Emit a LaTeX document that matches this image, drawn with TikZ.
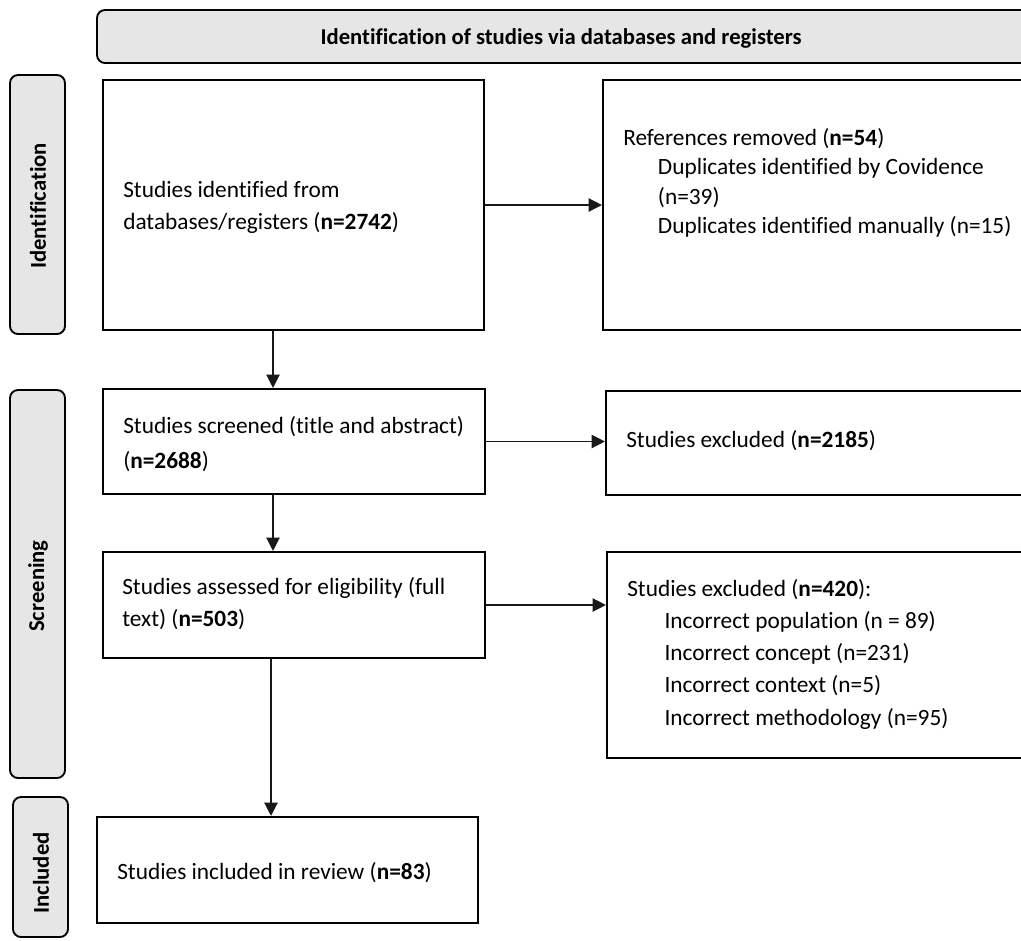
\documentclass[tikz,border=0pt]{standalone}
\usepackage{fontspec}
\setmainfont{Carlito}[Ligatures=NoCommon]
\usetikzlibrary{arrows.meta,fit}
\definecolor{phasegray}{HTML}{E6E6E6}
\begin{document}
\begin{tikzpicture}[x=0.75pt,y=-0.75pt,
  box/.style={draw=black, line width=1.6pt, inner sep=0pt, fill=white},
  phase/.style={draw=black, line width=1.4pt, fill=phasegray, rounded corners=6pt, inner sep=0pt},
  txt/.style={font=\fontsize{17.5}{24}\selectfont, align=left, anchor=west, inner sep=0pt},
  phasetxt/.style={font=\fontsize{17}{20}\selectfont\bfseries, rotate=90, inner sep=0pt},
  arr/.style={draw=black!90, line width=1pt, -{Triangle[length=10pt,width=10pt]}}]
\useasboundingbox (0,0) rectangle (1021,940);
\clip (0,0) rectangle (1021,940);
% header banner
\node[phase, fit={(97,10) (1060,63)}] (hdr) {};
\node[font=\fontsize{17}{20}\selectfont\bfseries, inner sep=0pt] (hdrt) at (561,38) {Identification of studies via databases and registers};
% phase side boxes
\node[phase, fit={(10,75) (65,334)}] (pid) {};
\node[phasetxt] (pidt) at (38,206) {Identification};
\node[phase, fit={(10,390) (65,778)}] (psc) {};
\node[phasetxt] (psct) at (38,586) {Screening};
\node[phase, fit={(13,797) (68,937)}] (pin) {};
\node[phasetxt] (pint) at (41,873) {Included};
% main boxes
\node[box, fit={(103,80) (484,330)}] (b1) {};
\node[box, fit={(603,80) (1060,330)}] (r1) {};
\node[box, fit={(103,389) (485,494)}] (b2) {};
\node[box, fit={(606,391) (1060,495)}] (r2) {};
\node[box, fit={(103,552) (485,658)}] (b3) {};
\node[box, fit={(607,552) (1060,758)}] (r3) {};
\node[box, fit={(97,817) (478,923)}] (b4) {};
% texts
\node[txt, font=\fontsize{17.5}{24}\selectfont] (b1t) at (123,207) {Studies identified from\\databases/registers (\textbf{n=2742})};
\node[txt, font=\fontsize{17.5}{22}\selectfont] (r1t) at (623,183) {References removed (\textbf{n=54})\\\hspace*{26pt}Duplicates identified by Covidence\\\hspace*{26pt}(n=39)\\\hspace*{26pt}Duplicates identified manually (n=15)};
\node[txt, font=\fontsize{17.5}{26}\selectfont] (b2t) at (123,444) {Studies screened (title and abstract)\\(\textbf{n=2688})};
\node[txt] (r2t) at (626,441) {Studies excluded (\textbf{n=2185})};
\node[txt] (b3t) at (122,604) {Studies assessed for eligibility (full\\text) (\textbf{n=503})};
\node[txt, font=\fontsize{17.5}{24.2}\selectfont] (r3t) at (627,654) {Studies excluded (\textbf{n=420}):\\\hspace*{28pt}Incorrect population (n = 89)\\\hspace*{28pt}Incorrect concept (n=231)\\\hspace*{28pt}Incorrect context (n=5)\\\hspace*{28pt}Incorrect methodology (n=95)};
\node[txt] (b4t) at (117,873) {Studies included in review (\textbf{n=83})};
% connectors
\coordinate (c1) at (273,0);
\coordinate (c2) at (271,0);
\draw[arr] (b1.east) -- (b1.east -| r1.west);
\draw[arr] (b1.south -| c1) -- (b2.north -| c1);
\draw[arr] (b2.east) -- (b2.east -| r2.west);
\draw[arr] (b2.south -| c1) -- (b3.north -| c1);
\draw[arr] (b3.east) -- (b3.east -| r3.west);
\draw[arr] (b3.south -| c2) -- (b4.north -| c2);
\end{tikzpicture}
\end{document}
